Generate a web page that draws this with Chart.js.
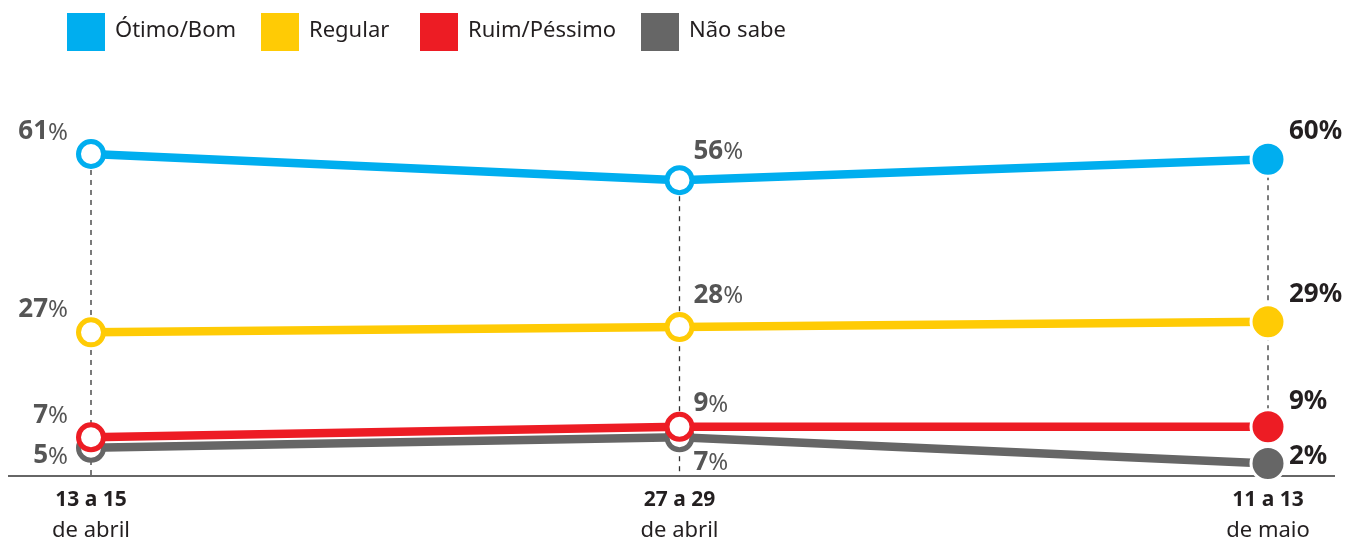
<!DOCTYPE html>
<html>
<head>
<meta charset="utf-8">
<script src="https://cdn.jsdelivr.net/npm/chart.js@4"></script>
<style>
  html, body { margin: 0; padding: 0; background: #fff; }
  #wrap { width: 1347px; height: 547px; position: relative; }
</style>
</head>
<body>
<div id="wrap"><canvas id="chart"></canvas></div>
<script>
// data
const periods = [['13 a 15', 'de abril'], ['27 a 29', 'de abril'], ['11 a 13', 'de maio']];
const seriesNames = ['Ótimo/Bom', 'Regular', 'Ruim/Péssimo', 'Não sabe'];
const otimoBom = [61, 56, 60];
const regular = [27, 28, 29];
const ruimPessimo = [7, 9, 9];
const naoSabe = [5, 7, 2];

const colors = ['#00aeef', '#ffcb05', '#ed1c24', '#666666'];
const FONT = '"Noto Sans", sans-serif';

// label offsets per dataset [left, middle, right] (dy from the point)
const labelDy = [
    [-22, -29, -28],
    [-23, -32, -27],
    [-22, -23, -25],
    [8, 25, -7]
];
const legendX = [67, 261, 420, 641];

function makeDataset(i, values) {
    const c = colors[i];
    return {
        label: seriesNames[i],
        data: values,
        borderColor: c,
        backgroundColor: c,
        borderWidth: 8.5,
        tension: 0,
        clip: false,
        pointRadius: [12.5, 12.5, 17],
        pointHoverRadius: [12.5, 12.5, 17],
        pointBorderWidth: [5, 5, 3],
        pointHoverBorderWidth: [5, 5, 3],
        pointBackgroundColor: ['#fff', '#fff', c],
        pointBorderColor: [c, c, '#fff']
    };
}

const guides = {
    id: 'guides',
    beforeDatasetsDraw(chart) {
        const ctx = chart.ctx;
        const x = chart.scales.x, y = chart.scales.y;
        const axisY = y.getPixelForValue(0) + 2;
        ctx.save();
        ctx.strokeStyle = '#333';
        ctx.lineWidth = 1.3;
        ctx.setLineDash([5, 5]);
        periods.forEach((p, i) => {
            const px = x.getPixelForValue(i);
            ctx.beginPath();
            ctx.moveTo(px, y.getPixelForValue(otimoBom[i]) + 16);
            ctx.lineTo(px, axisY);
            ctx.stroke();
        });
        ctx.setLineDash([]);
        ctx.lineWidth = 1.5;
        ctx.beginPath();
        ctx.moveTo(8, axisY);
        ctx.lineTo(1335, axisY);
        ctx.stroke();
        ctx.restore();
    },
    afterDatasetsDraw(chart) {
        const ctx = chart.ctx;
        const x = chart.scales.x, y = chart.scales.y;
        ctx.save();
        ctx.textBaseline = 'middle';
        // value labels
        chart.data.datasets.forEach((ds, d) => {
            ds.data.forEach((v, i) => {
                const px = x.getPixelForValue(i);
                const py = y.getPixelForValue(v) + labelDy[d][i];
                const last = i === ds.data.length - 1;
                const numFont = 'bold 26px ' + FONT;
                const pctFont = (last ? 'bold 26px ' : '24px ') + FONT;
                ctx.fillStyle = last ? '#231f20' : '#555555';
                ctx.font = numFont;
                const nw = ctx.measureText(String(v)).width;
                ctx.font = pctFont;
                const pw = ctx.measureText('%').width;
                let sx;
                if (i === 0) sx = px - 23 - nw - pw;
                else if (last) sx = px + 21;
                else sx = px + 14;
                ctx.textAlign = 'left';
                ctx.font = numFont;
                ctx.fillText(String(v), sx, py);
                ctx.font = pctFont;
                ctx.fillText('%', sx + nw, py + (last ? 0 : 1));
            });
        });
        // period labels
        ctx.fillStyle = '#231f20';
        ctx.textAlign = 'center';
        periods.forEach((p, i) => {
            const px = x.getPixelForValue(i);
            ctx.font = 'bold 21px ' + FONT;
            ctx.fillText(p[0], px, 500);
            ctx.font = '22px ' + FONT;
            ctx.fillText(p[1], px, 531);
        });
        // legend
        ctx.textAlign = 'left';
        ctx.font = '22px ' + FONT;
        chart.data.datasets.forEach((ds, d) => {
            ctx.fillStyle = ds.borderColor;
            ctx.fillRect(legendX[d], 13, 38, 38);
            ctx.fillStyle = '#231f20';
            ctx.fillText(ds.label, legendX[d] + 48, 31);
        });
        ctx.restore();
    }
};

new Chart(document.getElementById('chart'), {
    type: 'line',
    data: {
        labels: periods.map(p => p.join(' ')),
        datasets: [
            makeDataset(0, otimoBom),
            makeDataset(1, regular),
            makeDataset(2, ruimPessimo),
            makeDataset(3, naoSabe)
        ]
    },
    options: {
        responsive: true,
        maintainAspectRatio: false,
        animation: false,
        layout: { padding: { left: 91, right: 79, top: 133, bottom: 73 } },
        plugins: { legend: { display: false }, tooltip: { enabled: false } },
        scales: {
            x: { display: false, offset: false },
            y: { display: false, min: 0, max: 65 }
        }
    },
    plugins: [guides]
});
</script>
</body>
</html>
